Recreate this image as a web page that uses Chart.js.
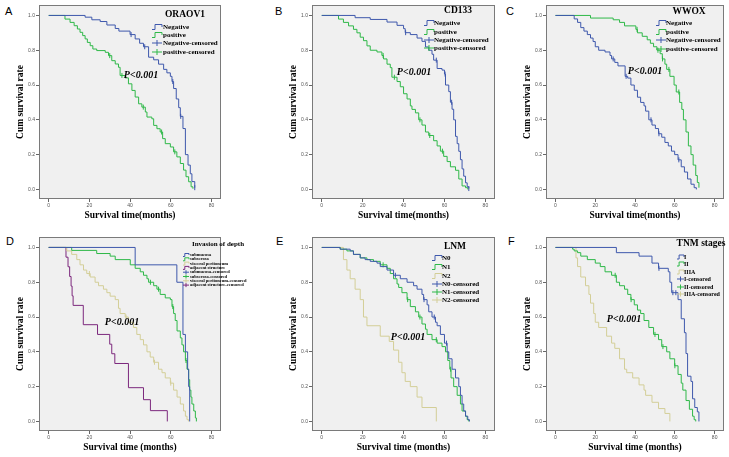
<!DOCTYPE html>
<html lang="en">
<head>
<meta charset="UTF-8" />
<title>Kaplan-Meier survival curves</title>
<script src="https://cdn.jsdelivr.net/npm/chart.js"></script>
<style>
  html, body { margin: 0; padding: 0; background: #fff; }
  #fig { position: relative; width: 729px; height: 457px; overflow: hidden; }
  #fig canvas { position: absolute; }
  .tag { position: absolute; font: 11px "Liberation Sans", Arial, sans-serif; line-height: 11px; color: #000; }
</style>
</head>
<body>
<div id="fig">
  <div class="tag" style="left:5px;top:6px">A</div>
  <div class="tag" style="left:275px;top:6px">B</div>
  <div class="tag" style="left:506px;top:6px">C</div>
  <div class="tag" style="left:6px;top:236px">D</div>
  <div class="tag" style="left:276px;top:236px">E</div>
  <div class="tag" style="left:508px;top:236px">F</div>
</div>
<script>
// axis ticks
const xTickValues = [0, 20, 40, 60, 80];
const yTickValues = [0, 0.2, 0.4, 0.6, 0.8, 1.0];

// A - ORAOV1  ([months, cumulative survival])
const oraovGroups = ['Negative', 'positive'];
const oraovNeg = [[0,1],[17.9,0.99],[21.2,0.975],[25.3,0.965],[28.6,0.945],[32.7,0.925],[34.5,0.91],[40,0.89],[42.5,0.865],[44.7,0.84],[46.6,0.82],[49.1,0.76],[51.6,0.745],[54,0.72],[56.5,0.69],[58.1,0.67],[59.8,0.65],[60.6,0.62],[61.4,0.58],[62.7,0.52],[63.9,0.47],[64.7,0.42],[66,0.35],[67.2,0.2],[68.5,0.14],[69.6,0.09],[70.4,0.045],[71.8,0.01]];
const oraovNegCens = [40.5, 47.2, 61, 64.9, 71.8];
const oraovPos = [[0,1],[8,0.979],[10.5,0.96],[12.5,0.941],[14.1,0.922],[15.4,0.903],[16.7,0.884],[17.9,0.865],[19,0.845],[20.4,0.826],[21.7,0.807],[23.6,0.798],[27.8,0.788],[29.4,0.769],[31,0.74],[32.7,0.721],[34.3,0.702],[35.1,0.655],[37.6,0.641],[39.2,0.607],[40.9,0.569],[42.5,0.531],[44.2,0.492],[45.8,0.473],[47.5,0.445],[48.3,0.416],[50.7,0.406],[51.6,0.368],[53.2,0.349],[54.8,0.33],[56,0.292],[57.3,0.263],[59.8,0.244],[61.4,0.216],[63,0.187],[64.7,0.149],[66.3,0.111],[67.5,0.073],[68.8,0.044],[70,0.015],[70.9,0.004]];
const oraovPosCens = [30, 36, 46.5, 55.5, 62];

// B - CD133
const cd133Groups = ['Negative', 'positive'];
const cd133Neg = [[0,1],[16.3,0.987],[23.7,0.977],[31.9,0.962],[36.8,0.943],[40,0.924],[40.8,0.901],[43.3,0.89],[46.6,0.87],[49,0.851],[50.7,0.819],[52.3,0.8],[53.9,0.777],[54.7,0.743],[56.4,0.695],[58.8,0.686],[60,0.663],[60.5,0.6],[62.1,0.562],[62.9,0.501],[63.7,0.461],[64.5,0.4],[65.4,0.305],[66.2,0.263],[67,0.219],[67.8,0.171],[68.6,0.118],[69.4,0.076],[70.3,0.038],[71.1,0.015],[71.9,0.005]];
const cd133NegCens = [41, 56, 60.3, 63.5, 71.9];
const cd133Pos = [[0,1],[8.2,0.979],[10.6,0.96],[13.1,0.94],[15.5,0.92],[17.2,0.9],[18.8,0.875],[20.4,0.855],[22.1,0.825],[23.7,0.8],[27,0.79],[29.4,0.77],[30.2,0.75],[31.9,0.72],[33.5,0.7],[34.3,0.645],[36.8,0.62],[38.4,0.59],[40,0.55],[41.7,0.52],[43.3,0.48],[44.1,0.46],[45.8,0.44],[47.4,0.4],[49,0.37],[50.7,0.33],[52.3,0.31],[54.7,0.28],[56.4,0.25],[58,0.22],[59.6,0.19],[61.3,0.16],[62.9,0.13],[65.4,0.11],[67,0.06],[68.6,0.02],[70.3,0.01],[71.4,0]];
const cd133PosCens = [30, 35.5, 48, 52.8, 59];

// C - WWOX
const wwoxGroups = ['Negative', 'positive'];
const wwoxNeg = [[0,1],[9.4,0.98],[11.1,0.96],[12.7,0.93],[14.3,0.91],[16,0.89],[17.6,0.87],[18.9,0.85],[20,0.82],[21.7,0.8],[24.9,0.79],[27.4,0.77],[28.2,0.75],[29.8,0.73],[31.4,0.71],[35,0.65],[36.3,0.64],[37.9,0.6],[39.6,0.57],[41.2,0.53],[42.8,0.5],[44.5,0.48],[45.3,0.45],[46.9,0.4],[48.5,0.37],[50.2,0.35],[51.8,0.32],[53.4,0.3],[55,0.27],[56.7,0.25],[58.3,0.22],[59.9,0.2],[61.6,0.17],[63.2,0.13],[64.8,0.1],[66.4,0.06],[68.1,0.03],[69.7,0.01],[70.8,0]];
const wwoxNegCens = [29, 35.5, 48, 52, 62];
const wwoxPos = [[0,1],[17.6,0.985],[29,0.975],[32.2,0.96],[34.7,0.94],[40.4,0.92],[41.2,0.9],[43.6,0.88],[46.1,0.86],[47.7,0.84],[49.3,0.82],[51,0.8],[52.6,0.78],[53.7,0.75],[55,0.72],[55.9,0.69],[57.5,0.65],[59.6,0.6],[60.7,0.56],[62.4,0.5],[63.5,0.46],[64.3,0.4],[65.6,0.33],[66.8,0.25],[68.1,0.2],[69.2,0.14],[70.5,0.08],[71.3,0.04],[72.1,0.01]];
const wwoxPosCens = [41, 51.5, 53.8, 57, 62];

// D - invasion of depth
const depthGroups = ['submucosa', 'subserosa', 'visceral peritoneum', 'adjacent structure'];
const depthSubmucosa = [[0,1],[42.5,0.9],[63,0.8],[66,0.5],[67.2,0.4],[68.3,0.3],[68.8,0.2],[69.3,0]];
const depthSubmucosaCens = [];
const depthSubserosa = [[0,1],[11.3,0.983],[23.6,0.965],[30.2,0.95],[32.7,0.93],[40.1,0.9],[42.5,0.88],[45,0.86],[46.6,0.84],[48.3,0.82],[49.1,0.8],[51.6,0.78],[53.2,0.76],[54.8,0.73],[57.3,0.71],[59.8,0.7],[60.6,0.66],[61.4,0.62],[62.2,0.58],[63.1,0.52],[64.7,0.48],[65.5,0.44],[66.3,0.4],[67.2,0.35],[68,0.3],[68.8,0.24],[69.3,0.18],[69.9,0.14],[70.4,0.1],[71.3,0.06],[72.1,0.02],[72.6,0]];
const depthSubserosaCens = [50, 54, 61, 67.5];
const depthVisceral = [[0,1],[8.9,0.98],[11.3,0.96],[13.8,0.93],[15.4,0.9],[17.1,0.87],[18.7,0.85],[20.4,0.83],[22.8,0.8],[24.5,0.78],[26.9,0.76],[28.6,0.74],[30.2,0.72],[32.7,0.7],[34.3,0.65],[35.1,0.62],[37.6,0.6],[39.2,0.57],[41.7,0.54],[43.3,0.5],[45,0.47],[46.6,0.44],[48.3,0.4],[49.9,0.37],[51.6,0.34],[54,0.3],[55.7,0.28],[57.3,0.25],[59.8,0.22],[61.4,0.18],[63.1,0.14],[64.7,0.1],[66.3,0.06],[67.2,0.03],[68,0.01],[68.8,0]];
const depthVisceralCens = [20, 38, 52, 60];
const depthAdjacent = [[0,1],[8.5,0.944],[9.5,0.889],[10.3,0.833],[11,0.778],[11.5,0.722],[12,0.667],[17,0.556],[24,0.5],[30,0.444],[31,0.389],[32.5,0.333],[39.2,0.194],[46.6,0.125],[50,0.062],[58.3,0]];
const depthAdjacentCens = [];

// E - LNM
const lnmGroups = ['N0', 'N1', 'N2'];
const lnmN0 = [[0,1],[9,0.99],[13.9,0.98],[15.5,0.96],[18.8,0.94],[21.2,0.93],[23.7,0.92],[27,0.91],[28.6,0.89],[31.9,0.87],[35.1,0.84],[38.4,0.82],[41.7,0.8],[44.9,0.78],[46.6,0.76],[49,0.73],[49.8,0.7],[51.5,0.67],[52.3,0.63],[53.9,0.6],[55.6,0.57],[56.4,0.55],[58,0.5],[60,0.45],[61.3,0.4],[62.1,0.36],[63.7,0.3],[65.4,0.25],[67,0.2],[67.8,0.15],[68.6,0.1],[69.4,0.06],[70.3,0.03],[71.4,0.01],[72.2,0]];
const lnmN0Cens = [36, 50, 55, 61];
const lnmN1 = [[0,1],[9,0.99],[12.3,0.98],[15.5,0.96],[18.8,0.94],[22.1,0.93],[25.3,0.92],[28.6,0.9],[31.9,0.88],[33.5,0.85],[35.1,0.82],[36.8,0.79],[37.6,0.77],[39.2,0.74],[41.7,0.7],[43.3,0.66],[45.8,0.63],[47.4,0.6],[49,0.56],[50.7,0.53],[51.5,0.5],[53.9,0.47],[56.4,0.45],[58.8,0.43],[60.5,0.4],[61.6,0.35],[62.6,0.3],[63.2,0.25],[64.5,0.2],[66.2,0.15],[67.8,0.1],[68.6,0.06],[70.3,0.03],[71.1,0.01],[71.9,0]];
const lnmN1Cens = [30, 42, 48, 56, 63];
const lnmN2 = [[0,1],[10.6,0.93],[12.3,0.87],[13.9,0.82],[16.3,0.76],[18.8,0.7],[20.4,0.6],[22.1,0.55],[28.6,0.49],[33,0.46],[35.1,0.41],[37.6,0.34],[39.2,0.28],[40.8,0.23],[43.3,0.2],[46.6,0.14],[49,0.08],[56,0]];
const lnmN2Cens = [];

// F - TNM stages
const tnmGroups = ['I', 'II', 'IIIA'];
const tnmI = [[0,1],[30.6,0.97],[42,0.95],[48.5,0.91],[51.8,0.88],[56.7,0.86],[57.5,0.8],[58.4,0.74],[61.6,0.7],[63.2,0.59],[64.8,0.51],[65.6,0.39],[66.4,0.26],[68.1,0.23],[68.9,0.13],[70,0.08],[71.3,0.055],[72.1,0]];
const tnmICens = [52, 59, 60.5];
const tnmII = [[0,1],[8.6,0.99],[9.4,0.98],[11.1,0.97],[12.7,0.95],[16,0.93],[20,0.91],[22.5,0.89],[24.9,0.86],[28.2,0.84],[30.6,0.8],[32.2,0.78],[34.7,0.76],[36.3,0.73],[37.9,0.7],[39.6,0.67],[41.2,0.64],[42.8,0.62],[44.5,0.58],[46.9,0.54],[49.3,0.5],[51.8,0.47],[53.4,0.43],[55.9,0.4],[57.5,0.36],[59.9,0.32],[61.6,0.27],[63.2,0.22],[64,0.18],[65.6,0.12],[67.3,0.07],[68.9,0.03],[69.7,0.01],[70.5,0]];
const tnmIICens = [30, 38, 50, 54, 60];
const tnmIIIA = [[0,1],[10.3,0.94],[11.1,0.89],[12.7,0.83],[15.1,0.78],[16.8,0.73],[17.6,0.68],[19.2,0.62],[20,0.57],[21.7,0.54],[25.7,0.49],[28.2,0.45],[29.8,0.42],[32.2,0.36],[34.7,0.3],[35.8,0.28],[38.8,0.25],[42,0.21],[44.5,0.18],[45.3,0.15],[48.5,0.11],[51.8,0.074],[55,0.046],[57.5,0]];
const tnmIIIACens = [];

const BLUE = '#3E58AC', GREEN = '#2EB848', TAN = '#D3CE97', PURPLE = '#7C287D';
const SERIF = '"Liberation Serif", "Times New Roman", serif';
const SANS = '"Liberation Sans", Arial, sans-serif';

const panels = [
  { left: 0, top: 0, w: 270, h: 228, boxTop: 4, boxW: 182, boxH: 195, xTitle: 'Survival time(months)', xTitleY: 216,
    series: [
      { name: oraovGroups[0], color: BLUE, curve: oraovNeg, cens: oraovNegCens },
      { name: oraovGroups[1], color: GREEN, curve: oraovPos, cens: oraovPosCens }],
    legend: { title: 'ORAOV1', tx: 185, ty: 15, tsize: 9.5, ix: 152, lx: 163, ys: [27, 35, 43, 52], size: 7, iw: 10, ih: 5 },
    p: { x: 141, y: 75, size: 10 } },
  { left: 273, top: 0, w: 270, h: 228, boxTop: 4, boxW: 183, boxH: 195, xTitle: 'Survival time(months)', xTitleY: 216,
    series: [
      { name: cd133Groups[0], color: BLUE, curve: cd133Neg, cens: cd133NegCens },
      { name: cd133Groups[1], color: GREEN, curve: cd133Pos, cens: cd133PosCens }],
    legend: { title: 'CD133', tx: 458, ty: 11, tsize: 9.5, ix: 424, lx: 434, ys: [23, 32, 40, 48], size: 7, iw: 10, ih: 5 },
    p: { x: 414, y: 72, size: 10 } },
  { left: 507, top: 0, w: 222, h: 228, boxTop: 4, boxW: 182, boxH: 195, xTitle: 'Survival time(months)', xTitleY: 216,
    series: [
      { name: wwoxGroups[0], color: BLUE, curve: wwoxNeg, cens: wwoxNegCens },
      { name: wwoxGroups[1], color: GREEN, curve: wwoxPos, cens: wwoxPosCens }],
    legend: { title: 'WWOX', tx: 689, ty: 12, tsize: 9.5, ix: 656, lx: 666, ys: [23, 32, 40, 49], size: 7, iw: 10, ih: 5 },
    p: { x: 645, y: 71, size: 10 } },
  { left: 0, top: 228, w: 270, h: 229, boxTop: 9, boxW: 182, boxH: 194, xTitle: 'Survival time (months)', xTitleY: 448,
    series: [
      { name: depthGroups[0], color: BLUE, curve: depthSubmucosa, cens: depthSubmucosaCens },
      { name: depthGroups[1], color: GREEN, curve: depthSubserosa, cens: depthSubserosaCens },
      { name: depthGroups[2], color: TAN, curve: depthVisceral, cens: depthVisceralCens },
      { name: depthGroups[3], color: PURPLE, curve: depthAdjacent, cens: depthAdjacentCens }],
    legend: { title: 'Invasion of depth', tx: 218, ty: 244, tsize: 7, ix: 183, lx: 190, ys: [255, 259.3, 263.6, 267.9, 272.2, 276.5, 280.8, 285.1], size: 4.5, iw: 6, ih: 3 },
    p: { x: 122, y: 322, size: 10 } },
  { left: 273, top: 228, w: 270, h: 229, boxTop: 9, boxW: 183, boxH: 194, xTitle: 'Survival time (months)', xTitleY: 448,
    series: [
      { name: lnmGroups[0], color: BLUE, curve: lnmN0, cens: lnmN0Cens },
      { name: lnmGroups[1], color: GREEN, curve: lnmN1, cens: lnmN1Cens },
      { name: lnmGroups[2], color: TAN, curve: lnmN2, cens: lnmN2Cens }],
    legend: { title: 'LNM', tx: 455, ty: 247, tsize: 9.5, ix: 432, lx: 442, ys: [258, 267, 276, 284, 292, 300], size: 7, iw: 10, ih: 5 },
    p: { x: 408, y: 337, size: 10 } },
  { left: 507, top: 228, w: 222, h: 229, boxTop: 9, boxW: 182, boxH: 194, xTitle: 'Survival time (months)', xTitleY: 448,
    series: [
      { name: tnmGroups[0], color: BLUE, curve: tnmI, cens: tnmICens },
      { name: tnmGroups[1], color: GREEN, curve: tnmII, cens: tnmIICens },
      { name: tnmGroups[2], color: TAN, curve: tnmIIIA, cens: tnmIIIACens }],
    legend: { title: 'TNM stages', tx: 701, ty: 244, tsize: 9.5, ix: 677, lx: 684, ys: [257, 264, 272, 279, 287, 294], size: 6, iw: 7, ih: 4 },
    p: { x: 624, y: 319, size: 10 } }
];

// survival level of a step curve at time t (for placing censor marks)
function levelAt(curve, t) {
  let s = curve[0][1];
  for (const [x, y] of curve) { if (x <= t) s = y; }
  return s;
}

function drawStepIcon(ctx, x, y, w, h, color) {
  ctx.strokeStyle = color; ctx.lineWidth = 1;
  ctx.beginPath();
  ctx.moveTo(x, y + h / 2); ctx.lineTo(x + w * 0.3, y + h / 2);
  ctx.lineTo(x + w * 0.3, y - h / 2); ctx.lineTo(x + w, y - h / 2); ctx.lineTo(x + w, y);
  ctx.stroke();
}
function drawCensIcon(ctx, x, y, w, h, color) {
  ctx.strokeStyle = color; ctx.lineWidth = 1;
  ctx.beginPath();
  ctx.moveTo(x, y); ctx.lineTo(x + w, y);
  ctx.moveTo(x + w / 2, y - h / 2); ctx.lineTo(x + w / 2, y + h / 2);
  ctx.stroke();
}

const kmPlugin = {
  id: 'km',
  beforeDraw(chart) {
    const a = chart.chartArea, ctx = chart.ctx;
    ctx.save();
    ctx.fillStyle = '#F0F0F0';
    ctx.fillRect(a.left, a.top, a.right - a.left, a.bottom - a.top);
    ctx.restore();
  },
  afterDraw(chart) {
    const p = chart.options.plugins.km.panel;
    const a = chart.chartArea, ctx = chart.ctx;
    ctx.save();
    ctx.strokeStyle = '#7a7a7a'; ctx.lineWidth = 1;
    ctx.strokeRect(a.left + 0.5, a.top + 0.5, a.right - a.left - 1, a.bottom - a.top - 1);

    // legend
    const L = p.legend;
    ctx.fillStyle = '#000';
    ctx.textBaseline = 'middle';
    ctx.textAlign = 'center';
    ctx.font = 'bold ' + L.tsize + 'px ' + SERIF;
    ctx.fillText(L.title, L.tx - p.left, L.ty - p.top);
    ctx.textAlign = 'left';
    ctx.font = 'bold ' + L.size + 'px ' + SERIF;
    const items = p.series.map(s => ({ s, cens: false })).concat(p.series.map(s => ({ s, cens: true })));
    items.forEach((it, i) => {
      const y = L.ys[i] - p.top, x = L.ix - p.left;
      if (it.cens) drawCensIcon(ctx, x, y, L.iw, L.ih + 1, it.s.color);
      else drawStepIcon(ctx, x, y, L.iw, L.ih, it.s.color);
      ctx.fillStyle = '#000';
      ctx.fillText(it.s.name + (it.cens ? '-censored' : ''), L.lx - p.left, y);
    });

    ctx.font = 'italic bold ' + p.p.size + 'px ' + SERIF;
    ctx.textAlign = 'center';
    ctx.fillText('P<0.001', p.p.x - p.left, p.p.y - p.top);
    ctx.restore();
  }
};

const fig = document.getElementById('fig');
panels.forEach(p => {
  const cv = document.createElement('canvas');
  cv.width = p.w; cv.height = p.h;
  cv.style.left = p.left + 'px'; cv.style.top = p.top + 'px';
  fig.appendChild(cv);

  const datasets = [];
  p.series.forEach(s => {
    datasets.push({
      label: s.name, data: s.curve.map(([x, y]) => ({ x, y })),
      borderColor: s.color, borderWidth: 1, pointRadius: 0, stepped: 'before', fill: false
    });
  });
  p.series.forEach(s => {
    datasets.push({
      label: s.name + '-censored', data: s.cens.map(t => ({ x: t, y: levelAt(s.curve, t) })),
      showLine: false, pointStyle: 'line', rotation: 90, pointRadius: 2.5,
      pointBorderColor: s.color, pointBorderWidth: 1, borderColor: s.color
    });
  });

  const xAxisH = p.h - p.boxTop - p.boxH;
  new Chart(cv, {
    type: 'line',
    data: { datasets },
    plugins: [kmPlugin],
    options: {
      responsive: false, animation: false, events: [],
      layout: { padding: { left: 0, top: p.boxTop, right: p.w - 39 - p.boxW, bottom: 0 } },
      plugins: { legend: { display: false }, tooltip: { enabled: false }, km: { panel: p } },
      scales: {
        x: {
          type: 'linear', min: -4.77, max: 84.7,
          afterBuildTicks: s => { s.ticks = xTickValues.map(v => ({ value: v })); },
          afterFit: s => { s.height = xAxisH; },
          grid: { display: true, drawOnChartArea: false, drawTicks: true, tickLength: 3, color: '#666' },
          border: { display: false },
          ticks: { font: { size: 5, family: SANS }, color: '#555', padding: 1, maxRotation: 0, autoSkip: false },
          title: { display: true, text: p.xTitle, color: '#000',
                   font: { family: SERIF, weight: 'bold', size: 9.5 },
                   padding: { top: 0, bottom: p.h - (p.xTitleY - p.top) - 5.7 } }
        },
        y: {
          type: 'linear', min: -0.055, max: 1.06,
          afterBuildTicks: s => { s.ticks = yTickValues.map(v => ({ value: v })); },
          afterFit: s => { s.width = 39; },
          grid: { display: true, drawOnChartArea: false, drawTicks: true, tickLength: 3, color: '#666' },
          border: { display: false },
          ticks: { font: { size: 5, family: SANS }, color: '#555', padding: 1, callback: v => v.toFixed(1) },
          title: { display: true, text: 'Cum survival rate', color: '#000',
                   font: { family: SERIF, weight: 'bold', size: 9.5 },
                   padding: { top: 21 - 5.7, bottom: 0 } }
        }
      }
    }
  });
});
</script>
</body>
</html>
